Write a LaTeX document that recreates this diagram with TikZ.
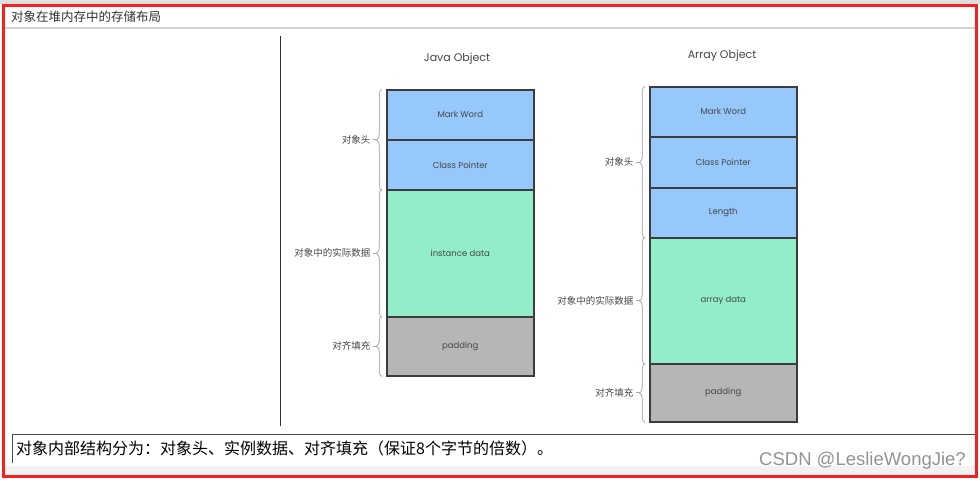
\documentclass[tikz,border=0pt]{standalone}
\usepackage{fontspec}
\setmainfont{Poppins}
\newfontfamily\cjk{Noto Sans CJK SC}
\newfontfamily\wm{Liberation Sans}
\usetikzlibrary{decorations.pathreplacing}
\definecolor{hdrblue}{RGB}{150,200,252}
\definecolor{datagreen}{RGB}{146,238,200}
\definecolor{padgray}{RGB}{182,182,182}
\definecolor{cellline}{RGB}{60,60,60}
\definecolor{cnred}{RGB}{250,30,30}
\definecolor{celltext}{RGB}{70,70,70}
\tikzset{
  cell/.style={draw=cellline, line width=1.6pt, minimum width=147pt, anchor=north west,
    inner sep=0pt, font=\fontsize{8.5}{10}\selectfont, text=celltext},
  hdr/.style={cell, fill=hdrblue},
  dat/.style={cell, fill=datagreen},
  pad/.style={cell, fill=padgray},
  brc/.style={draw=gray!55, line width=1pt, decorate, decoration={brace, amplitude=5.5pt, mirror}},
  tick/.style={draw=gray!70, line width=0.9pt},
  lbl/.style={font=\cjk\fontsize{9.5}{11}\selectfont, text=celltext, anchor=east, inner sep=0pt},
  ttl/.style={font=\fontsize{11}{13}\selectfont, text=celltext},
}
\begin{document}
\begin{tikzpicture}[x=1pt,y=-1pt]
\useasboundingbox (0,0) rectangle (980,480);
\fill[white] (0,0) rectangle (980,480);
\fill[gray!25] (0,0) rectangle (980,4);
% title bar
\node[font=\cjk\fontsize{12.5}{14}\selectfont, text=black!80, anchor=west, inner sep=0pt] (title) at (11,17) {对象在堆内存中的存储布局};
\draw[gray!35, line width=2pt] (5,27.5) -- (976,27.5);
% divider
\draw[black!80, line width=1pt] (280,36) -- (280,426);
% Java Object
\node[ttl] (jtitle) at (457,59) {Java Object};
\node[hdr, minimum height=50pt] (jmw) at (386,89) {Mark Word};
\node[hdr, minimum height=50pt] (jcp) at (386,139) {Class Pointer};
\node[dat, minimum height=127pt] (jid) at (386,189) {instance data};
\node[pad, minimum height=59pt] (jpd) at (386,316) {padding};
\draw[brc] ([xshift=-4pt]jmw.north west) -- ([xshift=-4pt]jcp.south west) coordinate[midway, xshift=-5.5pt] (b1);
\draw[brc] ([xshift=-4pt]jid.north west) -- ([xshift=-4pt]jid.south west) coordinate[midway, xshift=-5.5pt] (b2);
\draw[brc] ([xshift=-4pt]jpd.north west) -- ([xshift=-4pt]jpd.south west) coordinate[midway, xshift=-5.5pt] (b3);
\draw[tick] (b1) -- ++(-4,0) coordinate (b1e);
\draw[tick] (b2) -- ++(-4,0) coordinate (b2e);
\draw[tick] (b3) -- ++(-4,0) coordinate (b3e);
\node[lbl] (l1) at ([xshift=-2pt]b1e) {对象头};
\node[lbl] (l2) at ([xshift=-2pt]b2e) {对象中的实际数据};
\node[lbl] (l3) at ([xshift=-2pt]b3e) {对齐填充};
% Array Object
\node[ttl] (atitle) at (722,56) {Array Object};
\node[hdr, minimum height=50pt] (amw) at (649,86) {Mark Word};
\node[hdr, minimum height=51pt] (acp) at (649,136) {Class Pointer};
\node[hdr, minimum height=50pt] (aln) at (649,187) {Length};
\node[dat, minimum height=126pt] (aad) at (649,237) {array data};
\node[pad, minimum height=58pt] (apd) at (649,363) {padding};
\draw[brc] ([xshift=-4pt]amw.north west) -- ([xshift=-4pt]aln.south west) coordinate[midway, xshift=-5.5pt] (c1);
\draw[brc] ([xshift=-4pt]aad.north west) -- ([xshift=-4pt]aad.south west) coordinate[midway, xshift=-5.5pt] (c2);
\draw[brc] ([xshift=-4pt]apd.north west) -- ([xshift=-4pt]apd.south west) coordinate[midway, xshift=-5.5pt] (c3);
\draw[tick] (c1) -- ++(-4,0) coordinate (c1e);
\draw[tick] (c2) -- ++(-4,0) coordinate (c2e);
\draw[tick] (c3) -- ++(-4,0) coordinate (c3e);
\node[lbl] (m1) at ([xshift=-2pt]c1e) {对象头};
\node[lbl] (m2) at ([xshift=-2pt]c2e) {对象中的实际数据};
\node[lbl] (m3) at ([xshift=-2pt]c3e) {对齐填充};
% bottom
\draw[black!70, line width=1pt] (12,463) -- (12,434) -- (976,434);
\node[font=\cjk\fontsize{16}{18}\selectfont, anchor=west, inner sep=0pt] (note) at (16,448) {对象内部结构分为：对象头、实例数据、对齐填充（保证8个字节的倍数）。};
\fill[gray!10] (5,466) rectangle (975,475);
\node[font=\wm\fontsize{18.5}{20}\selectfont, text=gray!85, anchor=east, inner sep=0pt] (wmark) at (966,461) {CSDN @LeslieWongJie?};
% red frame
\draw[cnred, line width=3pt] (3.5,5.5) rectangle (976.5,476.5);
\end{tikzpicture}
\end{document}
